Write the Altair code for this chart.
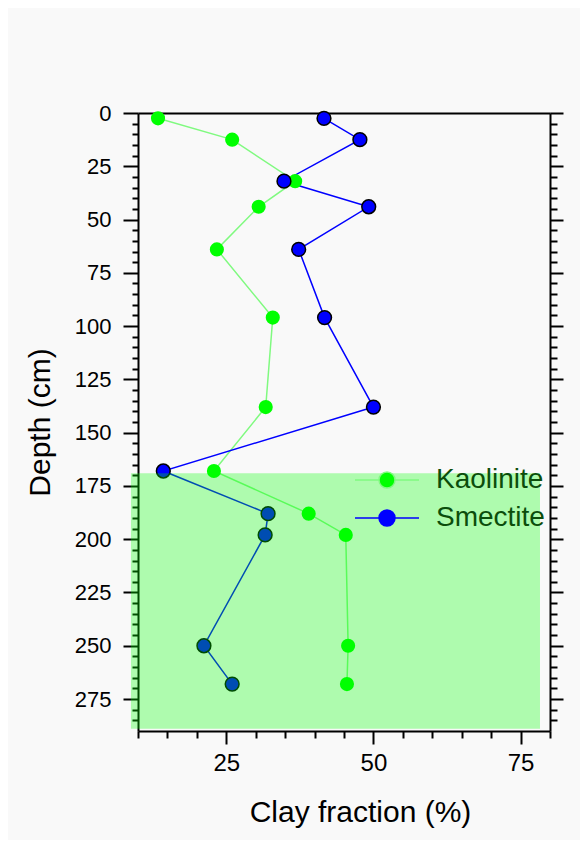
import altair as alt
import pandas as pd

# ---- data ----
depth_cm = [2.5, 12.5, 32, 44, 64, 96, 138, 168, 188, 198, 250, 268]
kaolinite = [13.4, 26.0, 36.7, 30.5, 23.4, 32.9, 31.7, 22.9, 39.0, 45.3, 45.7, 45.5]
smectite = [41.6, 47.7, 34.8, 49.2, 37.3, 41.7, 50.0, 14.3, 32.1, 31.6, 21.2, 26.0]
minerals = ["Kaolinite", "Smectite"]
zone_depth = [169, 289]
zone_clay = [8.8, 78.3]
x_ticks = list(range(10, 81, 5))
y_ticks = list(range(0, 286, 5))

rows = []
for d, k in zip(depth_cm, kaolinite):
    rows.append({"depth": d, "clay": k, "mineral": "Kaolinite"})
for d, s in zip(depth_cm, smectite):
    rows.append({"depth": d, "clay": s, "mineral": "Smectite"})
df = pd.DataFrame(rows)
zone = pd.DataFrame({"x": [zone_clay[0]], "x2": [zone_clay[1]],
                     "y": [zone_depth[0]], "y2": [zone_depth[1]]})

FONT = "Liberation Sans"
xscale = alt.Scale(domain=[10, 80], nice=False, zero=False)
yscale = alt.Scale(domain=[0, 290], nice=False, zero=False, reverse=True)
stroke_scale = alt.Scale(domain=minerals, range=["#80fa80", "#0000ff"])
fill_scale = alt.Scale(domain=minerals, range=["#00ff00", "#0000ff"])

SYMBOL = "M-4,0L-1,0M1,0L4,0M1,0A1,1,0,1,1,-1,0A1,1,0,1,1,1,0Z"
legend = alt.Legend(title=None, orient="none", legendX=235, legendY=353,
                    symbolType=SYMBOL, symbolSize=256, symbolStrokeWidth=1.5,
                    symbolOpacity=1, labelFont=FONT, labelFontSize=28,
                    labelFontWeight="normal",
                    labelColor="#0b4d0b", labelOffset=35, rowPadding=10)


def cond(major, minor):
    return {"condition": {"test": "datum.value % 25 === 0", "value": major}, "value": minor}


common = dict(domainColor="black", domainWidth=2, tickColor="black", tickWidth=2,
              labelFont=FONT, titleFont=FONT, labelColor="black", titleColor="black",
              grid=False, labelOverlap=False, titleFontWeight="normal",
              labelFontWeight="normal")

x_bottom = alt.Axis(orient="bottom", values=x_ticks, tickSize=cond(13, 7),
                    labelExpr="datum.value % 25 === 0 ? datum.label : ''",
                    labelFontSize=24, labelPadding=7, title="Clay fraction (%)",
                    titleFontSize=30, titleX=222, titleY=81, titleBaseline="middle",
                    titleAlign="center", **common)
y_left = alt.Axis(orient="left", values=y_ticks, tickSize=cond(15, 6),
                  labelExpr="datum.value % 25 === 0 ? datum.label : ''",
                  labelFontSize=22, labelPadding=12, title="Depth (cm)",
                  titleFontSize=30, titleX=-98, titleY=309, titleBaseline="middle",
                  titleAlign="center", **common)
x_top = alt.Axis(orient="top", ticks=False, labels=False, title=None, **common)
y_right = alt.Axis(orient="right", values=y_ticks, tickSize=cond(13, 7),
                   labels=False, title=None, **common)

lines = alt.Chart(df).mark_line(strokeWidth=1.5).encode(
    x=alt.X("clay:Q", scale=xscale, axis=x_bottom),
    y=alt.Y("depth:Q", scale=yscale, axis=y_left),
    stroke=alt.Stroke("mineral:N", scale=stroke_scale, legend=legend),
    order=alt.Order("depth:Q"),
)

kpts = alt.Chart(df).transform_filter(alt.datum.mineral == "Kaolinite").mark_circle(
    size=200, opacity=1).encode(
    x=alt.X("clay:Q", scale=xscale, axis=x_top),
    y=alt.Y("depth:Q", scale=yscale, axis=y_right),
    fill=alt.Fill("mineral:N", scale=fill_scale, legend=legend),
)

spts = alt.Chart(df).transform_filter(alt.datum.mineral == "Smectite").mark_circle(
    size=190, opacity=1, stroke="black", strokeWidth=1.5).encode(
    x=alt.X("clay:Q", scale=xscale, axis=None),
    y=alt.Y("depth:Q", scale=yscale, axis=None),
    fill=alt.Fill("mineral:N", scale=fill_scale, legend=legend),
)

rect = alt.Chart(zone).mark_rect(color="#00ff00", opacity=0.3, clip=False).encode(
    x=alt.X("x:Q", scale=xscale, axis=None),
    x2="x2:Q",
    y=alt.Y("y:Q", scale=yscale, axis=None),
    y2="y2:Q",
)

chart = alt.layer(lines, kpts, spts, rect).resolve_scale(
    x="shared", y="shared"
).resolve_axis(
    x="independent", y="independent"
).properties(
    width=412, height=618, background="#f9f9f9",
    autosize=alt.AutoSizeParams(type="none"),
    padding={"left": 130, "top": 105, "right": 30, "bottom": 109},
).configure_view(stroke=None)

chart.save("out.html", embed_options={"renderer": "svg", "actions": False})
